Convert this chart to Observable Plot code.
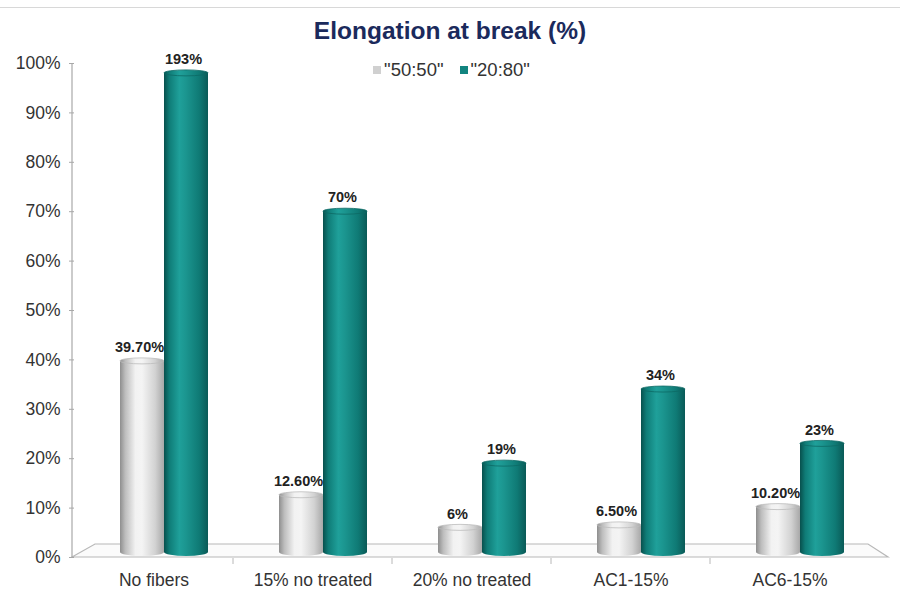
<!DOCTYPE html>
<html>
<head>
<meta charset="utf-8">
<script src="https://cdn.jsdelivr.net/npm/d3@7"></script>
<script src="https://cdn.jsdelivr.net/npm/@observablehq/plot@0.6"></script>
<style>
  html, body { margin: 0; padding: 0; background: #fff; }
  #wrap { position: relative; width: 900px; height: 607px; overflow: hidden; font-family: "Liberation Sans", Arial, sans-serif; }
  #topline { position: absolute; top: 7px; left: 0; width: 900px; height: 1px; background: #d8d8d8; }
  #title { height: 45px; box-sizing: border-box; padding-top: 17px; text-align: center; font-weight: bold; font-size: 24.5px; color: #1b2a5c; line-height: 28px; }
  #legend { position: absolute; top: 59px; left: 0; width: 903px; text-align: center; font-size: 18.5px; color: #333; }
  #legend span.item { display: inline-block; margin: 0 8px; }
  #legend span.sw { display: inline-block; width: 8px; height: 8px; margin-right: 3px; vertical-align: 2px; }
</style>
</head>
<body>
<div id="wrap">
  <div id="topline"></div>
  <div id="title">Elongation at break (%)</div>
  <div id="legend"></div>
  <div id="chart"></div>
</div>
<script>
// ---- data ----
const categories = ["No fibers", "15% no treated", "20% no treated", "AC1-15%", "AC6-15%"];
const series = ['"50:50"', '"20:80"'];
const values5050 = [39.7, 12.6, 6, 6.5, 10.2];
const values2080 = [193, 70, 19, 34, 23];
const labels5050 = ["39.70%", "12.60%", "6%", "6.50%", "10.20%"];
const labels2080 = ["193%", "70%", "19%", "34%", "23%"];
const yTicks = [0, 10, 20, 30, 40, 50, 60, 70, 80, 90, 100];
const yMax = 100;
const clipMax = 98; // visible top of a bar that exceeds the axis
const seriesColors = ["#d0d0d0", "#12847f"];

// ---- table ----
const rows = categories.flatMap((c, i) => [
  {cat: c, series: series[0], value: values5050[i], label: labels5050[i]},
  {cat: c, series: series[1], value: values2080[i], label: labels2080[i]}
]).map(d => ({...d, shown: Math.min(d.value, clipMax)}));

// ---- legend ----
const legend = document.getElementById("legend");
series.forEach((s, i) => {
  const it = document.createElement("span");
  it.className = "item";
  const sw = document.createElement("span");
  sw.className = "sw";
  sw.style.background = seriesColors[i];
  it.appendChild(sw);
  it.appendChild(document.createTextNode(s));
  legend.appendChild(it);
});

const W = 900, H = 562, ML = 72, MR = 30, MT = 18, MB = 50;
const shift = 10;

const plot = Plot.plot({
  width: W, height: H,
  marginTop: MT, marginBottom: MB, marginLeft: ML, marginRight: MR,
  style: {fontFamily: "'Liberation Sans', Arial, sans-serif", fontSize: "17.5px", color: "#333", background: "transparent"},
  fx: {domain: categories, padding: 0, label: null, tickSize: 0, tickPadding: 16},
  x: {domain: series, paddingInner: 0, paddingOuter: 0.773, axis: null},
  y: {domain: [0, yMax], ticks: yTicks, tickFormat: d => d + "%", tickSize: 5, tickPadding: 9, label: null},
  marks: [
    Plot.barY(rows.filter(d => d.series === series[0]), {fx: "cat", x: "series", y: "shown", fill: "url(#gGray)", insetBottom: 5, dx: shift}),
    Plot.barY(rows.filter(d => d.series === series[1]), {fx: "cat", x: "series", y: "shown", fill: "url(#gTeal)", insetBottom: 5, dx: shift}),
    Plot.text(rows, {fx: "cat", x: "series", y: "shown", text: "label", dy: -14, dx: shift - 3, fontWeight: "bold", fontSize: 14.5, fill: "#222"})
  ]
});

document.getElementById("chart").appendChild(plot);

// ---- decorations derived from scales ----
const ns = "http://www.w3.org/2000/svg";
const svg = plot.tagName.toLowerCase() === "svg" ? plot : plot.querySelector("svg");
const defs = document.createElementNS(ns, "defs");
function grad(id, stops) {
  const g = document.createElementNS(ns, "linearGradient");
  g.setAttribute("id", id);
  g.setAttribute("x1", "0"); g.setAttribute("x2", "1"); g.setAttribute("y1", "0"); g.setAttribute("y2", "0");
  stops.forEach(([o, c]) => {
    const s = document.createElementNS(ns, "stop");
    s.setAttribute("offset", o); s.setAttribute("stop-color", c);
    g.appendChild(s);
  });
  defs.appendChild(g);
}
grad("gGray", [["0", "#8e8e8e"], ["0.12", "#bdbdbd"], ["0.35", "#f2f2f2"], ["0.5", "#f4f4f4"], ["0.8", "#d2d2d2"], ["1", "#a8a8a8"]]);
grad("gTeal", [["0", "#08504d"], ["0.12", "#0f7c77"], ["0.35", "#1fa09a"], ["0.5", "#1b958f"], ["0.8", "#0f7a75"], ["1", "#0a5a57"]]);
svg.insertBefore(defs, svg.firstChild);

const ys = plot.scale("y");
const y0 = ys.apply(0), yTop = ys.apply(yMax);
const xr = W - MR;

// floor
const floor = document.createElementNS(ns, "path");
floor.setAttribute("d", `M${ML},${y0} L${ML + 23},${y0 - 13} L${xr - 2},${y0 - 13} L${xr + 18},${y0} Z`);
floor.setAttribute("fill", "#fbfbfb");
floor.setAttribute("stroke", "#b8b8b8");
floor.setAttribute("stroke-width", "1.2");
svg.insertBefore(floor, defs.nextSibling);

// y axis line
const axis = document.createElementNS(ns, "line");
axis.setAttribute("x1", ML); axis.setAttribute("x2", ML);
axis.setAttribute("y1", yTop); axis.setAttribute("y2", y0);
axis.setAttribute("stroke", "#a8a8a8");
axis.setAttribute("stroke-width", "1.2");
svg.appendChild(axis);

// category separator ticks
const fxs = plot.scale("fx");
categories.slice(1).forEach(c => {
  const xx = fxs.apply(c);
  const t = document.createElementNS(ns, "line");
  t.setAttribute("x1", xx); t.setAttribute("x2", xx);
  t.setAttribute("y1", y0 + 1); t.setAttribute("y2", y0 + 7);
  t.setAttribute("stroke", "#b8b8b8");
  svg.insertBefore(t, floor.nextSibling);
});

// cylinder caps
function fillOf(el) {
  while (el && el.getAttribute) {
    const f = el.getAttribute("fill");
    if (f) return f;
    el = el.parentNode;
  }
  return "";
}
svg.querySelectorAll("rect").forEach(r => {
  const f = fillOf(r);
  if (f.indexOf("url(") < 0) return;
  const teal = f.indexOf("gTeal") >= 0;
  const x = +r.getAttribute("x"), y = +r.getAttribute("y"), w = +r.getAttribute("width"), h = +r.getAttribute("height");
  const cx = x + w / 2, rx = w / 2;
  const bot = document.createElementNS(ns, "ellipse");
  bot.setAttribute("cx", cx); bot.setAttribute("cy", y + h); bot.setAttribute("rx", rx); bot.setAttribute("ry", 4);
  bot.setAttribute("fill", teal ? "url(#gTeal)" : "url(#gGray)");
  r.parentNode.insertBefore(bot, r);
  const top = document.createElementNS(ns, "ellipse");
  top.setAttribute("cx", cx); top.setAttribute("cy", y); top.setAttribute("rx", rx); top.setAttribute("ry", 3);
  top.setAttribute("fill", teal ? "url(#gTeal)" : "url(#gGray)");
  top.setAttribute("stroke", teal ? "#0d6965" : "#bdbdbd");
  top.setAttribute("stroke-width", "0.8");
  r.parentNode.insertBefore(top, r.nextSibling);
});

// tick colours
svg.querySelectorAll('g[aria-label="y-axis tick"] path, g[aria-label="y-axis tick"], .tick line').forEach(e => e.setAttribute("stroke", "#a8a8a8"));
</script>
</body>
</html>
